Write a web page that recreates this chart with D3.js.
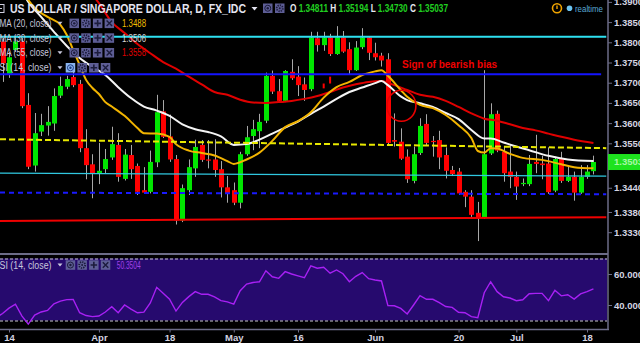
<!DOCTYPE html>
<html><head><meta charset="utf-8">
<script src="https://cdn.jsdelivr.net/npm/d3@7/dist/d3.min.js"></script>
<style>html,body{margin:0;padding:0;background:#000;overflow:hidden}svg{display:block}</style>
</head><body>
<svg id="chart" width="640" height="343"></svg>
<script>
// ================= DATA =================
const firstCandleDate = "2016-03-11";
const opens = [1.3802,1.3722,1.3781,1.3802,1.3645,1.3495,1.3579,1.3594,1.3599,1.3668,1.3690,1.3714,1.3697,1.3538,1.3498,1.3476,1.3486,1.3515,1.3546,1.3462,1.3521,1.3494,1.3434,1.3430,1.3503,1.3629,1.3567,1.3511,1.3359,1.3434,1.3488,1.3546,1.3510,1.3510,1.3486,1.3441,1.3434,1.3403,1.3523,1.3568,1.3580,1.3606,1.3717,1.3679,1.3655,1.3727,1.3715,1.3696,1.3684,1.3810,1.3793,1.3812,1.3771,1.3812,1.3783,1.3731,1.3788,1.3812,1.3773,1.3767,1.3758,1.3558,1.3554,1.3517,1.3457,1.3526,1.3598,1.3556,1.3558,1.3521,1.3484,1.3480,1.3430,1.3418,1.3378,1.3366,1.3525,1.3623,1.3529,1.3480,1.3467,1.3449,1.3449,1.3504,1.3500,1.3500,1.3433,1.3511,1.3457,1.3467,1.3428,1.3467,1.34811];
const highs = [1.3811,1.3776,1.3816,1.3811,1.3674,1.3625,1.3623,1.3642,1.3686,1.3715,1.3717,1.3727,1.3707,1.3585,1.3523,1.3551,1.3536,1.3591,1.3575,1.3536,1.3546,1.3500,1.3491,1.3532,1.3670,1.3657,1.3621,1.3521,1.3448,1.3510,1.3559,1.3558,1.3558,1.3560,1.3506,1.3469,1.3453,1.3529,1.3593,1.3608,1.3623,1.3725,1.3730,1.3709,1.3731,1.3758,1.3741,1.3713,1.3826,1.3826,1.3826,1.3821,1.3840,1.3828,1.3800,1.3803,1.3835,1.3814,1.3799,1.3774,1.3773,1.3624,1.3587,1.3535,1.3542,1.3612,1.3622,1.3568,1.3581,1.3540,1.3494,1.3489,1.3434,1.3434,1.3405,1.3731,1.3649,1.3631,1.3543,1.3546,1.3480,1.3463,1.3521,1.3571,1.3519,1.3540,1.3517,1.3529,1.3494,1.3480,1.3496,1.3496,1.35194];
const lows = [1.3702,1.3712,1.3776,1.3637,1.3486,1.3480,1.3568,1.3569,1.3581,1.3662,1.3684,1.3689,1.3528,1.3461,1.3414,1.3449,1.3474,1.3509,1.3455,1.3458,1.3462,1.3422,1.3426,1.3426,1.3491,1.3563,1.3504,1.3349,1.3355,1.3422,1.3467,1.3504,1.3488,1.3467,1.3416,1.3403,1.3397,1.3389,1.3519,1.3533,1.3538,1.3600,1.3672,1.3652,1.3652,1.3707,1.3667,1.3655,1.3679,1.3777,1.3779,1.3766,1.3769,1.3774,1.3721,1.3729,1.3783,1.3756,1.3755,1.3740,1.3548,1.3542,1.3509,1.3452,1.3451,1.3521,1.3546,1.3517,1.3486,1.3463,1.3469,1.3422,1.3392,1.3368,1.3308,1.3363,1.3521,1.3528,1.3455,1.3439,1.3410,1.3444,1.3444,1.3476,1.3461,1.3425,1.3429,1.3452,1.3454,1.3408,1.3425,1.3462,1.34730];
const closes = [1.3748,1.3763,1.3802,1.3642,1.3492,1.3575,1.3595,1.3603,1.3667,1.3692,1.3709,1.3694,1.3538,1.3496,1.3476,1.3482,1.3511,1.3548,1.3467,1.3522,1.3486,1.3430,1.3428,1.3504,1.3627,1.3566,1.3510,1.3359,1.3439,1.3491,1.3541,1.3509,1.3507,1.3484,1.3441,1.3426,1.3403,1.3523,1.3565,1.3585,1.3603,1.3717,1.3678,1.3655,1.3729,1.3711,1.3694,1.3682,1.3812,1.3793,1.3812,1.3771,1.3812,1.3777,1.3731,1.3787,1.3812,1.3774,1.3763,1.3755,1.3551,1.3554,1.3512,1.3461,1.3523,1.3593,1.3551,1.3553,1.3515,1.3482,1.3474,1.3426,1.3418,1.3373,1.3366,1.3523,1.3622,1.3532,1.3476,1.3467,1.3443,1.3452,1.3499,1.3499,1.3496,1.3429,1.3511,1.3457,1.3467,1.3428,1.3467,1.3480,1.35037];

// moving averages: bar number (0 = 14 Mar) and value
const sma20Bars = [2,3,4,6,8,9,10,11,12,13,14,15,16,18,20,21,23,25,26,28,30,32,34,35,37,39,41,43,45,47,49,51,53,55,57,58,59,61,62,64,66,68,70,72,73,74,75,76,78,80,83,86,88,91];
const sma20Vals = [1.3930,1.3905,1.3885,1.3863,1.3843,1.3818,1.3781,1.3744,1.3707,1.3687,1.3672,1.3652,1.3641,1.3618,1.3588,1.3575,1.3574,1.3566,1.3548,1.3532,1.3526,1.3520,1.3506,1.3499,1.3510,1.3527,1.3556,1.3590,1.3605,1.3627,1.3663,1.3689,1.3702,1.3719,1.3728,1.3731,1.3717,1.3682,1.3665,1.3645,1.3637,1.3620,1.3595,1.3563,1.3531,1.3527,1.3538,1.3537,1.3524,1.3514,1.3509,1.3498,1.3491,1.3488];
const sma30Bars = [2,3,5,7,9,11,13,15,17,19,21,23,25,27,29,31,33,35,37,39,41,43,45,47,49,51,53,55,57,58,59,61,62,64,66,68,70,72,74,75,77,79,81,84,87,91];
const sma30Vals = [1.3925,1.3900,1.3863,1.3826,1.3791,1.3761,1.3739,1.3719,1.3689,1.3662,1.3641,1.3631,1.3618,1.3597,1.3585,1.3578,1.3567,1.3546,1.3548,1.3559,1.3574,1.3589,1.3604,1.3623,1.3641,1.3660,1.3677,1.3688,1.3699,1.3704,1.3694,1.3666,1.3657,1.3649,1.3640,1.3625,1.3610,1.3583,1.3562,1.3562,1.3552,1.3542,1.3533,1.3519,1.3510,1.3506];
const sma55Bars = [13,14,16,18,20,22,24,26,28,30,32,34,36,38,40,42,44,46,48,50,52,54,56,58,60,62,64,66,68,70,72,74,76,78,80,82,84,86,88,91];
const sma55Vals = [1.3917,1.3897,1.3850,1.3823,1.3796,1.3773,1.3751,1.3735,1.3715,1.3696,1.3677,1.3670,1.3658,1.3651,1.3650,1.3652,1.3655,1.3660,1.3667,1.3677,1.3688,1.3696,1.3702,1.3704,1.3694,1.3682,1.3670,1.3665,1.3655,1.3640,1.3624,1.3611,1.3606,1.3597,1.3588,1.3582,1.3574,1.3566,1.3559,1.3551];

// RSI(14), one value per bar from 10 Mar
const rsiStartDate = "2016-03-10";
const rsiValues = [32,34.5,38,40.5,33,27.7,33.5,35.5,36.5,40.8,42.5,43.5,43.6,35,33.2,32.5,32.9,35.5,38.9,35,40,37.4,35,35.4,41.3,51.4,47.6,43.8,36.1,41.7,45.4,48.6,46.9,46.9,45.2,42.8,42,40.6,49.2,53.5,54.5,55,62.1,58.2,57.2,61.5,60,58.8,57.6,65.2,63.7,64.3,60.5,62.6,60.2,55,58.5,60.9,57,56.1,55.5,39.6,39.5,37.8,34.2,40,46,43.7,43.7,41.5,39,38.5,35.3,35,32.5,31.8,47.9,55,48.6,45.3,44.5,42.8,43.4,47.3,47.5,47.5,42.8,49.5,45.9,46.6,43.8,47.2,48.6,50.35];

// drawn levels: [startBar, startPrice, endBar, endPrice]
const cyanLevel = [-1.4, 1.3814, 93.0, 1.3814];
const blueLevel = [-1.4, 1.3721, 92.2, 1.3721];
const yellowDashLevel = [-1.4, 1.3560, 93.0, 1.3538];
const cyanThinLevel = [-1.4, 1.3476, 93.0, 1.3469];
const blueDashLevel = [-1.4, 1.3428, 93.0, 1.3424];
const redLevel = [-1.4, 1.3358, 93.0, 1.3367];

// annotation
const noteText = "Sign of bearish bias";
const noteBar = 61.2, notePrice = 1.3746;
const circleBar = 61.1, circlePrice = 1.3643;
const noteMarks = [[49, 1.3698, 1.3686], [50, 1.3715, 1.3698]];

// axes
const priceTicks = [1.39, 1.385, 1.38, 1.375, 1.37, 1.365, 1.36, 1.355, 1.344, 1.338, 1.333];
const rsiTicks = [60, 40];
const timeTickDates = ["2016-03-14","2016-04-01","2016-04-18","2016-05-02","2016-05-16","2016-06-01","2016-06-20","2016-07-01","2016-07-18"];
const timeTickLabels = ["14","Apr","18","May","16","Jun","20","Jul","18"];

const title = "US DOLLAR / SINGAPORE DOLLAR, D, FX_IDC";
const ohlcLabels = ["O","H","L","C"];
const ohlcValues = ["1.34811","1.35194","1.34730","1.35037"];
const maRows = [["MA (20, close)","1.3488","#f2be00"],["MA (30, close)","1.3506","#d8d8d8"],["MA (55, close)","1.3558","#e00000"]];
const rsiName = "SI (14, close)";
const rsiLast = "50.3504";
const lastPrice = "1.35037";

// ================= SCALES =================
const tradingDays = [];
for (let t = Date.UTC(2016, 2, 10); tradingDays.length < 96; t += 864e5) {
  const wd = new Date(t).getUTCDay();
  if (wd !== 0 && wd !== 6) tradingDays.push(new Date(t).toISOString().slice(0, 10));
}
const bar0 = tradingDays.indexOf("2016-03-14");
const barOf = s => tradingDays.indexOf(s) - bar0;

const x = d3.scaleLinear().domain([0, 90]).range([9, 587]);
const y = d3.scaleLinear().domain([1.333, 1.39]).range([232.2, 1.9]);
const yR = d3.scaleLinear().domain([30, 70]).range([320.5, 258.5]);

const FONT = "'Liberation Sans', Arial, sans-serif";
const svg = d3.select("#chart").style("font-family", FONT);
svg.append("rect").attr("width", 640).attr("height", 343).attr("fill", "#000");

const defs = svg.append("defs");
defs.append("clipPath").attr("id", "mainClip").append("rect").attr("x", 0).attr("y", 0).attr("width", 607).attr("height", 252);
defs.append("clipPath").attr("id", "rsiClip").append("rect").attr("x", 0).attr("y", 256).attr("width", 607).attr("height", 73);

// ================= MAIN PANE =================
const main = svg.append("g").attr("clip-path", "url(#mainClip)");
const candleStart = barOf(firstCandleDate);
const candles = opens.map((o, k) => ({ bar: candleStart + k, o, h: highs[k], l: lows[k], c: closes[k] }));

const cg = main.append("g");
cg.selectAll("line.wick").data(candles).join("line")
  .attr("x1", d => Math.round(x(d.bar)) + 0.5).attr("x2", d => Math.round(x(d.bar)) + 0.5)
  .attr("y1", d => y(d.h)).attr("y2", d => y(d.l))
  .attr("stroke", "#a8a8a8").attr("stroke-width", 1);
cg.selectAll("rect.body").data(candles).join("rect")
  .attr("x", d => Math.round(x(d.bar)) - 2).attr("width", 5)
  .attr("y", d => y(Math.max(d.o, d.c)))
  .attr("height", d => Math.max(1.2, Math.abs(y(d.o) - y(d.c))))
  .attr("fill", d => d.c >= d.o ? "#00e600" : "#ff0000");

const maLine = d3.line().x(d => x(d[0])).y(d => y(d[1])).curve(d3.curveMonotoneX);
const maSeries = [[sma55Bars, sma55Vals, "#e00000"], [sma30Bars, sma30Vals, "#f4f4f4"], [sma20Bars, sma20Vals, "#f2b400"]];
maSeries.forEach(([b, v, col]) => {
  main.append("path").datum(b.map((bb, k) => [bb, v[k]]))
    .attr("d", maLine).attr("fill", "none").attr("stroke", col).attr("stroke-width", 2);
});

function level(lv, col, w, dash) {
  main.append("line").attr("x1", x(lv[0])).attr("y1", y(lv[1])).attr("x2", x(lv[2])).attr("y2", y(lv[3]))
    .attr("stroke", col).attr("stroke-width", w).attr("stroke-dasharray", dash || null);
}
level(cyanLevel, "#2ee0f0", 2);
level(blueLevel, "#1414ff", 2);
level(yellowDashLevel, "#e8e800", 2, "6,3");
level(cyanThinLevel, "#30c8e0", 1.2);
level(blueDashLevel, "#1a1aff", 2, "5,4");
level(redLevel, "#f00000", 2);

main.selectAll("rect.mark").data(noteMarks).join("rect")
  .attr("x", d => x(d[0]) - 1).attr("width", 2)
  .attr("y", d => y(d[1])).attr("height", d => y(d[2]) - y(d[1]))
  .attr("fill", "#ff0000");
main.append("ellipse").attr("cx", x(circleBar)).attr("cy", y(circlePrice)).attr("rx", 14.5).attr("ry", 15.5)
  .attr("fill", "none").attr("stroke", "#e80000").attr("stroke-width", 1.6);
main.append("text").attr("x", x(noteBar)).attr("y", y(notePrice)).attr("dy", "0.35em")
  .attr("fill", "#f00000").attr("font-weight", "bold").attr("font-size", 11)
  .attr("textLength", 95).attr("lengthAdjust", "spacingAndGlyphs").text(noteText);

// ================= RSI PANE =================
const rsiPane = svg.append("g").attr("clip-path", "url(#rsiClip)");
rsiPane.append("rect").attr("x", 0).attr("width", 607).attr("y", yR(70)).attr("height", yR(30) - yR(70)).attr("fill", "#260a6e");
[70, 30].forEach(v => rsiPane.append("line").attr("x1", 0).attr("x2", 607).attr("y1", yR(v) + 0.5).attr("y2", yR(v) + 0.5)
  .attr("stroke", "#c8c8d0").attr("stroke-width", 1).attr("stroke-dasharray", "3,2"));
const rsiStart = barOf(rsiStartDate);
rsiPane.append("path").datum(rsiValues.map((v, k) => [rsiStart + k, v]))
  .attr("d", d3.line().x(d => x(d[0])).y(d => yR(d[1])))
  .attr("fill", "none").attr("stroke", "#a820f4").attr("stroke-width", 1.4);

// ================= FRAME & AXES =================
const frameCol = "#6c6c88";
svg.append("line").attr("x1", 0).attr("x2", 608).attr("y1", 254).attr("y2", 254).attr("stroke", frameCol).attr("stroke-width", 2);
svg.append("line").attr("x1", 0).attr("x2", 609).attr("y1", 329.5).attr("y2", 329.5).attr("stroke", frameCol).attr("stroke-width", 1.5);
svg.append("line").attr("x1", 608).attr("x2", 608).attr("y1", 0).attr("y2", 330).attr("stroke", frameCol).attr("stroke-width", 1.5);

const axStyle = g => {
  g.select(".domain").remove();
  g.selectAll("line").attr("stroke", frameCol);
  g.selectAll("text").attr("fill", "#d4d4e0").attr("font-family", FONT).attr("font-weight", "bold");
};
svg.append("g").attr("transform", "translate(608,0)")
  .call(d3.axisRight(y).tickValues(priceTicks).tickFormat(d3.format(".5f")).tickSize(4).tickPadding(2))
  .call(axStyle).selectAll("text").attr("font-size", 9.5);
svg.append("g").attr("transform", "translate(608,0)")
  .call(d3.axisRight(yR).tickValues(rsiTicks).tickFormat(d3.format(".4f")).tickSize(4).tickPadding(2))
  .call(axStyle).selectAll("text").attr("font-size", 9.5);
svg.append("g").attr("transform", "translate(0,329.5)")
  .call(d3.axisBottom(x).tickValues(timeTickDates.map(barOf)).tickFormat((d, i) => timeTickLabels[i]).tickSize(3).tickPadding(2))
  .call(axStyle).selectAll("text").attr("font-size", 9.5);

// last price label
const lp = svg.append("g");
lp.append("rect").attr("x", 608).attr("y", y(+lastPrice) - 8).attr("width", 32).attr("height", 16).attr("fill", "#1ee31e");
lp.append("text").attr("x", 614).attr("y", y(+lastPrice)).attr("dy", "0.35em").attr("font-size", 9.5).attr("font-weight", "bold")
  .attr("fill", "#a8f8a8").text(lastPrice);

// ================= HEADER / LEGENDS =================
function button(g, bx, by, kind, hl) {
  const b = g.append("g").attr("transform", `translate(${bx},${by})`);
  b.append("rect").attr("width", 9.5).attr("height", 9.5).attr("fill", hl ? "#8ab4ee" : "#5e5e96");
  const c = hl ? "#1c3a80" : "#1c1c3c";
  if (kind === 0) {
    b.append("circle").attr("cx", 4.75).attr("cy", 4.75).attr("r", 3).attr("fill", "none").attr("stroke", c).attr("stroke-width", 1);
    b.append("circle").attr("cx", 4.75).attr("cy", 4.75).attr("r", 1.2).attr("fill", c);
  } else if (kind === 1) {
    b.append("circle").attr("cx", 4.75).attr("cy", 4.75).attr("r", 3).attr("fill", "none").attr("stroke", c).attr("stroke-width", 1.8).attr("stroke-dasharray", "1.3,1");
    b.append("circle").attr("cx", 4.75).attr("cy", 4.75).attr("r", 1).attr("fill", c);
  } else if (kind === 2) {
    b.append("path").attr("d", "M4.75,1.5V8M1.5,4.75H8").attr("stroke", c).attr("stroke-width", 1.6);
  } else {
    b.append("path").attr("d", "M2,2L7.5,7.5M7.5,2L2,7.5").attr("stroke", c).attr("stroke-width", 1.4);
  }
}
const hdr = svg.append("g");
hdr.append("rect").attr("x", -4).attr("y", 4.5).attr("width", 8).attr("height", 8).attr("fill", "none").attr("stroke", "#d0d0e0");
hdr.append("line").attr("x1", -2).attr("x2", 2).attr("y1", 8.5).attr("y2", 8.5).attr("stroke", "#d0d0e0");
hdr.append("text").attr("x", 10).attr("y", 13.3).attr("font-size", 13).attr("font-weight", "bold").attr("fill", "#e4e4f0")
  .attr("textLength", 236).attr("lengthAdjust", "spacingAndGlyphs").text(title);
hdr.append("path").attr("d", "M251.5,7H257.5L254.5,10.5Z").attr("fill", "#e4e4f0");
button(hdr, 263, 3.5, 0); button(hdr, 275, 3.5, 1);
const ohlc = hdr.append("text").attr("x", 290).attr("y", 12).attr("font-size", 10.5).attr("font-weight", "bold")
  .attr("textLength", 158).attr("lengthAdjust", "spacingAndGlyphs");
ohlcLabels.forEach((l, k) => {
  ohlc.append("tspan").attr("fill", "#e8e8f0").text((k ? " " : "") + l + " ");
  ohlc.append("tspan").attr("fill", "#20d020").text(ohlcValues[k]);
});
hdr.append("circle").attr("cx", 557).attr("cy", 8.3).attr("r", 4.5).attr("fill", "none").attr("stroke", "#f0a400").attr("stroke-width", 1.6);
hdr.append("line").attr("x1", 557).attr("x2", 557).attr("y1", 5.5).attr("y2", 9).attr("stroke", "#f0a400").attr("stroke-width", 1.4);
hdr.append("circle").attr("cx", 569.5).attr("cy", 8.3).attr("r", 2.8).attr("fill", "#6cc4f0");
hdr.append("text").attr("x", 575).attr("y", 11.5).attr("font-size", 9.5).attr("fill", "#5aaad8")
  .attr("textLength", 28).attr("lengthAdjust", "spacingAndGlyphs").text("realtime");

function legendRow(cy, name, val, col, bx, vx, hl) {
  hdr.append("text").attr("x", -0.5).attr("y", cy + 3.5).attr("font-size", 10).attr("fill", "#c8c8dc")
    .attr("textLength", 52).attr("lengthAdjust", "spacingAndGlyphs").text(name);
  hdr.append("path").attr("d", `M57.5,${cy - 1.5}H62.5L60,${cy + 1.5}Z`).attr("fill", "#c8c8dc");
  for (let k = 0; k < 4; k++) button(hdr, bx + k * 11.7, cy - 4.7, k, hl && k === 0);
  if (val) hdr.append("text").attr("x", vx).attr("y", cy + 3.5).attr("font-size", 10).attr("fill", col)
    .attr("textLength", 24).attr("lengthAdjust", "spacingAndGlyphs").text(val);
}
maRows.forEach((r, k) => legendRow([23.3, 38, 52.7][k], r[0], r[1], r[2], 69.5, 122));
legendRow(67.7, rsiName, null, null, 65.7, 0, true);
legendRow(265, rsiName, rsiLast, "#a040e8", 65.7, 116.7, false);
</script>
</body></html>
